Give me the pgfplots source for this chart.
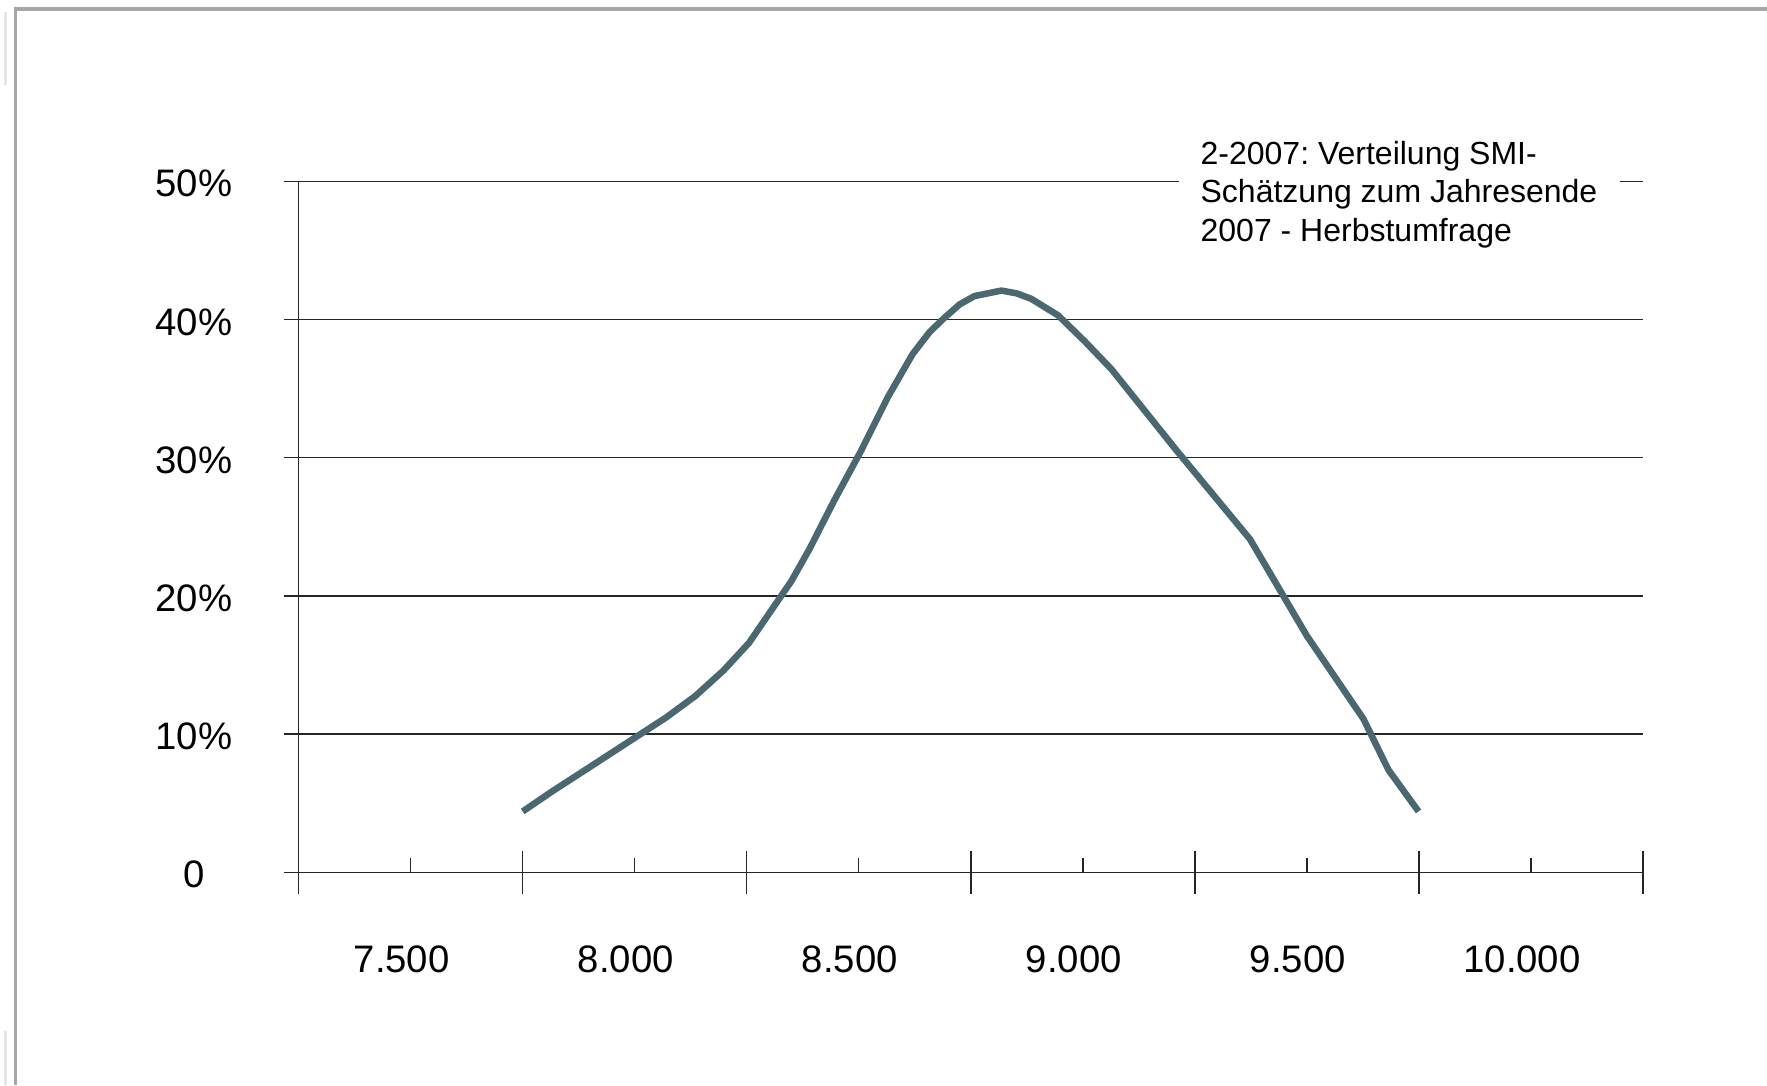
\documentclass[border=0pt]{standalone}
\usepackage{pgfplots}
\pgfplotsset{compat=1.18}
\usepackage{fontspec}
\setmainfont{Liberation Sans}
\frenchspacing
\definecolor{curvecol}{RGB}{75,104,112}
\definecolor{framecol}{RGB}{165,168,168}

\pgfplotstableread{
x     y
7750  4.4
7818  5.9
7880  7.2
8070  11.2
8135  12.75
8198  14.6
8255  16.6
8350  21.1
8390  23.4
8445  26.9
8505  30.5
8565  34.4
8620  37.5
8658  39.1
8690  40.1
8725  41.1
8758  41.7
8818  42.1
8852  41.9
8885  41.5
8945  40.3
9005  38.4
9064  36.4
9206  30.65
9373  24.1
9500  17.1
9626  11.1
9682  7.4
9749  4.4
}\smidata

\begin{document}
\begin{tikzpicture}[x=1pt,y=1pt]
\useasboundingbox (0,0) rectangle (784,481.5);
% frame of the chart area
\draw[framecol, line width=1.5pt] (7,0) -- (7,477.5) -- (784,477.5);
\draw[black!10, line width=1.5pt] (2.5,444) -- (2.5,476);
\draw[black!10, line width=1.5pt] (2.5,0) -- (2.5,24);
\begin{axis}[
  at={(132.5pt,94.5pt)}, anchor=south west,
  scale only axis, width=596.5pt, height=306.5pt,
  axis lines=left,
  axis line style={-, black!85, line width=0.6pt},
  xmin=7250, xmax=10250, ymin=0, ymax=50,
  scaled x ticks=false, scaled y ticks=false,
  ytick={0,10,20,30,40,50},
  yticklabels={0,10\%,20\%,30\%,40\%,50\%},
  ytick align=outside,
  xtick={7500,8000,8500,9000,9500,10000},
  xticklabels={7.500,8.000,8.500,9.000,9.500,10.000},
  xtick align=inside,
  major tick length=6.5pt,
  tick style={black!85, line width=0.6pt},
  extra x ticks={7250,7750,8250,8750,9250,9750,10250},
  extra x tick labels={},
  extra x tick style={xtick align=center, major tick length=19pt, grid=none},
  ymajorgrids,
  grid style={black!85, line width=0.6pt},
  tick label style={font=\fontsize{17}{20}\selectfont},
  yticklabel style={anchor=center, xshift=-40pt, yshift=-1pt},
  xticklabel style={yshift=-29pt, xshift=-4pt},
]
\addplot[curvecol, line width=2.9pt, line join=round] table[x=x, y=y] {\smidata};
\end{axis}
\fill[white] (523,370) rectangle (718.8,425);
\node[anchor=north west, inner sep=0pt, align=left,
      font=\fontsize{14.2}{17}\selectfont] at (532.5,419)
  {2-2007: Verteilung SMI-\\Schätzung zum Jahresende\\2007 - Herbstumfrage};
\end{tikzpicture}
\end{document}
